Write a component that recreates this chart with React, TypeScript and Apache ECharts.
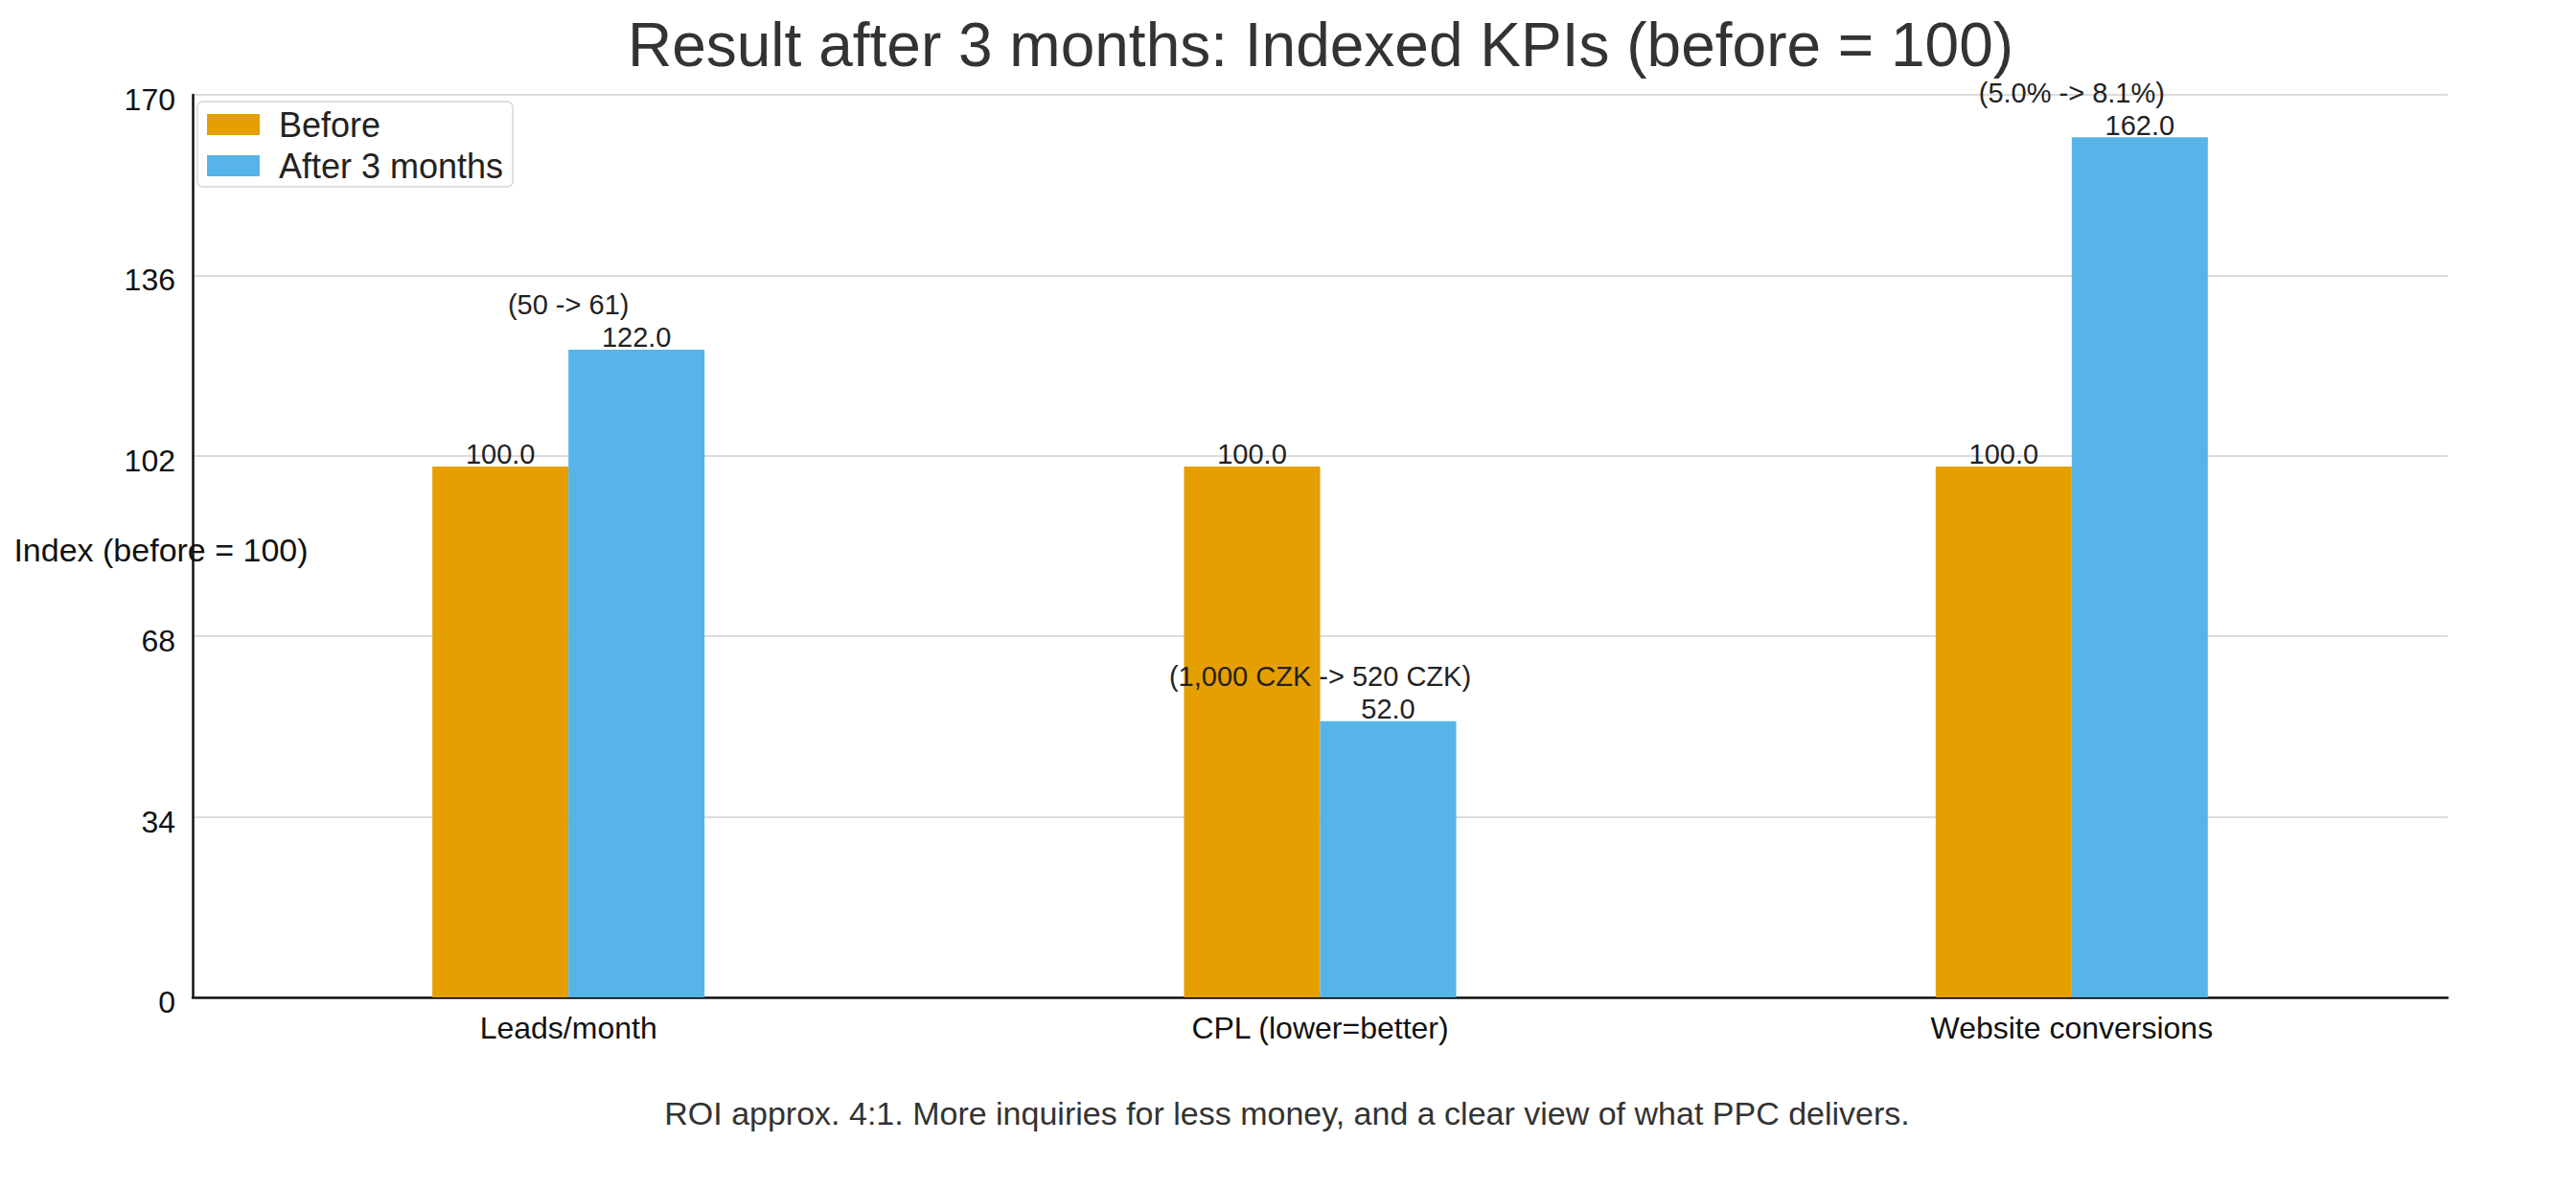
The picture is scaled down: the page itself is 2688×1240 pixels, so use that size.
import React, { useEffect, useRef } from "react";
import * as echarts from "echarts";

const categories = ["Leads/month", "CPL (lower=better)", "Website conversions"];
const beforeValues = [100, 100, 100];
const afterValues = [122, 52, 162];
const annotations = ["(50 -> 61)", "(1,000 CZK -> 520 CZK)", "(5.0% -> 8.1%)"];
const yTicks = [0, 34, 68, 102, 136, 170];
const seriesNames = ["Before", "After 3 months"];
const titleText = "Result after 3 months: Indexed KPIs (before = 100)";
const footerText = "ROI approx. 4:1. More inquiries for less money, and a clear view of what PPC delivers.";
const yAxisTitle = "Index (before = 100)";

const FONT = '"Liberation Sans", Arial, Helvetica, sans-serif';

export default function App() {
  const ref = useRef<HTMLDivElement>(null);
  useEffect(() => {
    if (!ref.current) return;
    const chart = echarts.init(ref.current, null, { renderer: "svg" });
    const option = {
      animation: false,
      backgroundColor: "#ffffff",
      textStyle: { fontFamily: FONT },
      title: [
        {
          text: titleText,
          left: 1373,
          textAlign: "center",
          top: 10,
          textStyle: { fontFamily: FONT, fontSize: 64, fontWeight: "normal", color: "#333333" },
        },
        {
          text: footerText,
          left: 1338,
          textAlign: "center",
          top: 1140,
          textStyle: { fontFamily: FONT, fontSize: 34, fontWeight: "normal", color: "#333333" },
        },
      ],
      legend: {
        data: seriesNames,
        orient: "vertical",
        left: 206,
        top: 106,
        padding: [6, 10, 4, 10],
        itemGap: 7,
        itemWidth: 55,
        itemHeight: 22,
        icon: "rect",
        backgroundColor: "rgba(255,255,255,0.9)",
        borderColor: "#d6d6d6",
        borderWidth: 1.5,
        borderRadius: 6,
        textStyle: { fontFamily: FONT, fontSize: 36, lineHeight: 36, color: "#222222", padding: [0, 0, 0, 15] },
      },
      grid: { left: 201, right: 134, top: 99, bottom: 199, containLabel: false },
      xAxis: {
        type: "category",
        data: categories,
        axisLine: { show: true, lineStyle: { color: "#111111", width: 2.5 } },
        axisTick: { show: false },
        axisLabel: { fontFamily: FONT, fontSize: 32, color: "#111111", margin: 16 },
        splitLine: { show: false },
      },
      yAxis: {
        type: "value",
        min: 0,
        max: 170,
        interval: 34,
        axisLine: { show: true, lineStyle: { color: "#111111", width: 2.5 } },
        axisTick: { show: false },
        axisLabel: {
          fontFamily: FONT,
          fontSize: 32,
          color: "#111111",
          margin: 18,
          verticalAlign: "top",
          lineHeight: 10,
          formatter: (v: number) => (yTicks.includes(v) ? String(v) : ""),
        },
        splitLine: { show: true, lineStyle: { color: "#cfcfcf", width: 1.5 } },
      },
      series: [
        {
          name: seriesNames[0],
          type: "bar",
          data: beforeValues,
          barWidth: 142,
          barGap: "0%",
          itemStyle: { color: "#E69F00" },
          label: {
            show: true,
            position: "top",
            distance: -2,
            fontFamily: FONT,
            fontSize: 29,
            color: "#222222",
            formatter: (p: any) => Number(p.value).toFixed(1),
          },
        },
        {
          name: seriesNames[1],
          type: "bar",
          data: afterValues,
          barWidth: 142,
          barGap: "0%",
          itemStyle: { color: "#56B4E9" },
          label: {
            show: true,
            position: "top",
            distance: -2,
            fontFamily: FONT,
            fontSize: 29,
            color: "#222222",
            formatter: (p: any) => Number(p.value).toFixed(1),
          },
        },
        {
          name: "annotations",
          type: "scatter",
          data: afterValues,
          symbolSize: 0,
          silent: true,
          z: 5,
          itemStyle: { opacity: 1 },
          label: {
            show: true,
            position: "top",
            distance: 32,
            opacity: 1,
            fontFamily: FONT,
            fontSize: 29,
            color: "#222222",
            formatter: (p: any) => annotations[p.dataIndex],
          },
        },
      ],
      graphic: [
        {
          type: "text",
          x: 168,
          y: 574,
          style: {
            text: yAxisTitle,
            fontFamily: FONT,
            fontSize: 34,
            fill: "#111111",
            textAlign: "center",
            textVerticalAlign: "middle",
          },
        },
      ],
    };
    chart.setOption(option as any);
    return () => chart.dispose();
  }, []);
  return (
    <div
      ref={ref}
      style={{ position: "absolute", left: 0, top: 0, width: 2688, height: 1240, background: "#fff" }}
    />
  );
}
